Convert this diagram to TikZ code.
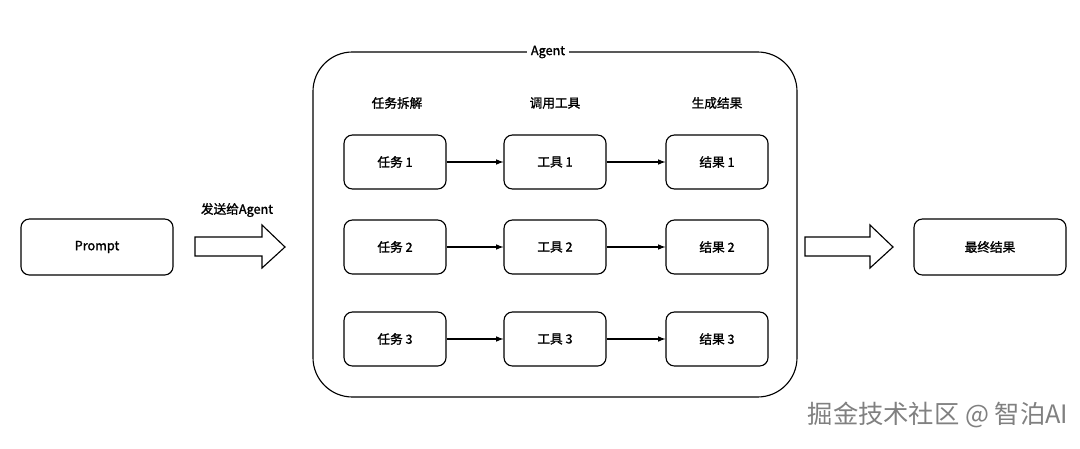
\documentclass[tikz,border=0pt]{standalone}
\usepackage{fontspec}
\setmainfont{Noto Sans CJK SC}[AutoFakeBold=1.5]
\usetikzlibrary{positioning}

\tikzset{
  box/.style={draw,rounded corners=6pt,thick,minimum width=2.55cm,minimum height=1.35cm,font=\fontsize{9}{10}\selectfont\bfseries},
  wide/.style={box,minimum width=3.8cm,minimum height=1.4cm},
  head/.style={font=\fontsize{9}{10}\selectfont\bfseries},
  fat/.style={draw,thick,line join=miter},
  link/.style={-latex,thick}
}

\begin{document}
\begin{tikzpicture}[x=0.025cm,y=-0.025cm]
\useasboundingbox (0,0) rectangle (1080,448);
\draw[thick,rounded corners=28pt] (313,52) rectangle (797,397);
\node[head,fill=white,inner sep=3pt] (agent) at (548,52) {Agent};

\node[wide] (prompt) at (97,247) {Prompt};
\draw[fat] (195,237) -- (262,237) -- (262,225) -- (285,247) -- (262,268) -- (262,256) -- (195,256) -- cycle;
\node[head] (sendlabel) at (237,210) {发送给Agent};

\node[head] (h1) at (397,103) {任务拆解};
\node[head] (h2) at (555,103) {调用工具};
\node[head] (h3) at (717,103) {生成结果};

\foreach \i/\y in {1/162,2/247,3/339}{
  \node[box] (task\i) at (395,\y) {任务 \i};
  \node[box] (tool\i) at (555,\y) {工具 \i};
  \node[box] (res\i) at (717,\y) {结果 \i};
  \draw[link] (task\i) -- (tool\i);
  \draw[link] (tool\i) -- (res\i);
}

\draw[fat] (805,237) -- (870,237) -- (870,225) -- (893,247) -- (870,268) -- (870,256) -- (805,256) -- cycle;
\node[wide] (final) at (990,247) {最终结果};

\node[font=\fontsize{18}{20}\selectfont,text=gray] (mark) at (938,415) {掘金技术社区 @ 智泊AI};
\end{tikzpicture}
\end{document}
